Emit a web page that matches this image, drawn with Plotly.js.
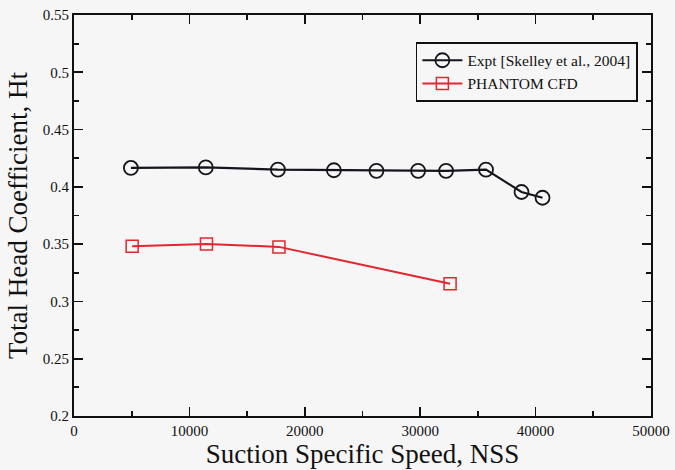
<!DOCTYPE html>
<html>
<head>
<meta charset="utf-8">
<script src="https://cdn.plot.ly/plotly-3.0.1.min.js"></script>
<style>html,body{margin:0;padding:0;background:#f6f6f6;}#chart{width:675px;height:470px;}</style>
</head>
<body>
<div id="chart"></div>
<script>
// Data
const exptNSS = [4930, 11420, 17670, 22520, 26210, 29820, 32240, 35700, 38780, 40600];
const exptHt  = [0.4165, 0.417, 0.415, 0.4145, 0.414, 0.414, 0.414, 0.415, 0.3955, 0.3905];
const cfdNSS  = [5040, 11480, 17760, 32590];
const cfdHt   = [0.3481, 0.3502, 0.3476, 0.3154];
const exptName = 'Expt [Skelley et al., 2004]';
const cfdName  = 'PHANTOM CFD';
const xTitle = 'Suction Specific Speed, NSS';
const yTitle = 'Total Head Coefficient, Ht';

const serif = '"Liberation Serif", "DejaVu Serif", serif';

const traces = [
  {
    x: exptNSS, y: exptHt, name: exptName, type: 'scatter', mode: 'lines+markers',
    line: {color: '#15151d', width: 2.2},
    marker: {symbol: 'circle-open', size: 14, color: '#15151d', line: {width: 1.8, color: '#15151d'}}
  },
  {
    x: cfdNSS, y: cfdHt, name: cfdName, type: 'scatter', mode: 'lines+markers',
    line: {color: '#e3262f', width: 2},
    marker: {symbol: 'square-open', size: 12, color: '#e3262f', line: {width: 1.5, color: '#e3262f'}}
  }
];

const axisCommon = {
  showgrid: false, zeroline: false,
  showline: true, linecolor: '#111', linewidth: 2, mirror: 'ticks',
  ticks: 'inside', ticklen: 9, tickwidth: 1.8, tickcolor: '#111',
  tickfont: {family: serif, size: 15, color: '#111'}
};

const layout = {
  width: 675, height: 470,
  paper_bgcolor: '#f6f6f6', plot_bgcolor: '#f6f6f6',
  margin: {l: 74, r: 24, t: 15, b: 54},
  showlegend: true,
  legend: {
    x: 0.592, y: 0.933, xanchor: 'left', yanchor: 'top',
    bgcolor: 'rgba(0,0,0,0)', bordercolor: '#111', borderwidth: 1.8,
    font: {family: serif, size: 15.5, color: '#111'},
    tracegroupgap: 0, itemwidth: 40
  },
  xaxis: Object.assign({}, axisCommon, {
    range: [0, 50000], dtick: 10000, tick0: 0, tickformat: 'd',
    minor: {dtick: 5000, ticks: 'inside', ticklen: 5, tickwidth: 1.8, tickcolor: '#111'},
    title: {text: xTitle, font: {family: serif, size: 27, color: '#111'}, standoff: 5}
  }),
  yaxis: Object.assign({}, axisCommon, {
    range: [0.2, 0.55], dtick: 0.05, tick0: 0.2,
    minor: {dtick: 0.025, ticks: 'inside', ticklen: 5, tickwidth: 1.8, tickcolor: '#111'},
    title: {text: yTitle, font: {family: serif, size: 27, color: '#111'}, standoff: 7}
  })
};

Plotly.newPlot('chart', traces, layout, {displayModeBar: false, staticPlot: true});
</script>
</body>
</html>
